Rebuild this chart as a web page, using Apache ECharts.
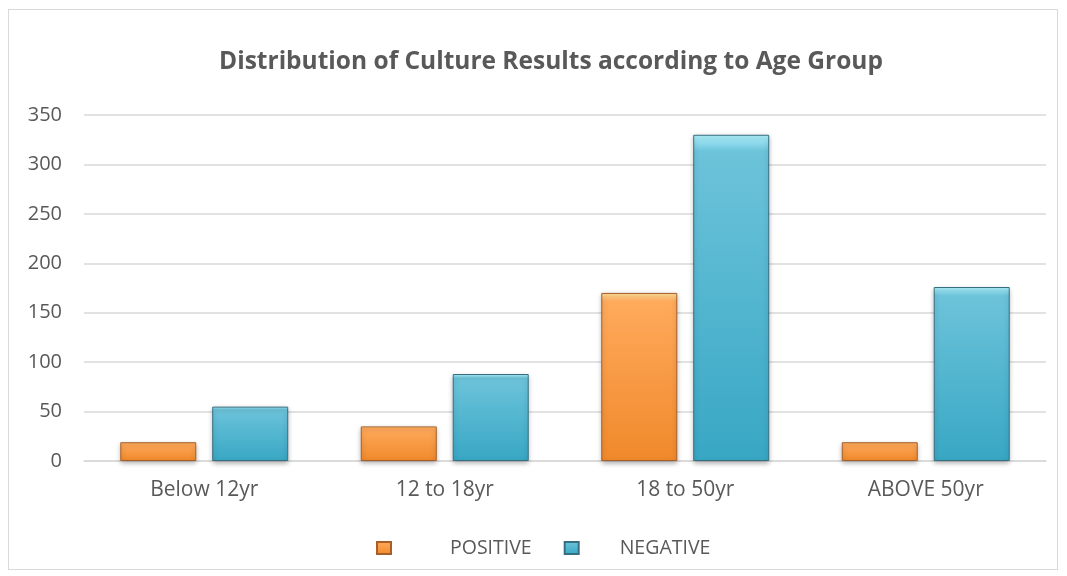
<!DOCTYPE html>
<html>
<head>
<meta charset="utf-8">
<script src="https://cdn.jsdelivr.net/npm/echarts@6/dist/echarts.min.js"></script>
<style>
html,body{margin:0;padding:0;background:#fff;}
#wrap{position:absolute;left:8px;top:9px;width:1050px;height:561px;border:1px solid #d9d9d9;box-sizing:border-box;}
#chart{position:absolute;left:0;top:0;width:1067px;height:576px;}
</style>
</head>
<body>
<div id="wrap"></div>
<div id="chart"></div>
<script>
const categories = ['Below 12yr', '12 to 18yr', '18 to 50yr', 'ABOVE 50yr'];
const positive = [19, 35, 170, 19];
const negative = [55, 88, 330, 176];
const yTicks = { min: 0, max: 350, interval: 50 };

const font = 'Open Sans';
const chart = echarts.init(document.getElementById('chart'));

function grad(top, mid, bottom) {
  return new echarts.graphic.LinearGradient(0, 0, 0, 1, [
    { offset: 0, color: top },
    { offset: 0.05, color: mid },
    { offset: 1, color: bottom }
  ]);
}

chart.setOption({
  animation: false,
  backgroundColor: 'transparent',
  title: {
    text: 'Distribution of Culture Results according to Age Group',
    left: 546, top: 45, textAlign: 'center',
    textStyle: { fontFamily: font, fontSize: 24.5, fontWeight: 'bold', color: '#595959' }
  },
  grid: { left: 84, right: 21, top: 115, bottom: 115, containLabel: false },
  legend: {
    top: 533, left: 371,
    itemWidth: 14, itemHeight: 12, itemGap: 32,
    icon: 'rect',
    textStyle: { fontFamily: font, fontSize: 19.5, color: '#595959' },
    data: [
      { name: 'POSITIVE', textStyle: { padding: [0, 0, 0, 54] } },
      { name: 'NEGATIVE', textStyle: { padding: [0, 0, 0, 36] } }
    ]
  },
  xAxis: {
    type: 'category', data: categories,
    axisLine: { lineStyle: { color: '#d9d9d9', width: 1.5 } },
    axisTick: { show: false },
    axisLabel: { fontFamily: font, fontSize: 21, color: '#595959', margin: 19 }
  },
  yAxis: {
    type: 'value', min: yTicks.min, max: yTicks.max, interval: yTicks.interval,
    axisLine: { show: false }, axisTick: { show: false },
    splitLine: { lineStyle: { color: '#d9d9d9', width: 1.5 } },
    axisLabel: { fontFamily: font, fontSize: 20, color: '#595959', margin: 22 }
  },
  series: [
    {
      name: 'POSITIVE', type: 'bar', data: positive,
      barWidth: 76, barGap: '21%',
      itemStyle: {
        color: grad('#ffe39a', '#ffaa5c', '#f0892b'),
        borderColor: '#a85e26', borderWidth: 1,
        shadowColor: 'rgba(0,0,0,0.3)', shadowBlur: 5, shadowOffsetY: 2
      }
    },
    {
      name: 'NEGATIVE', type: 'bar', data: negative,
      barWidth: 76,
      itemStyle: {
        color: grad('#b0f3ff', '#6cc3da', '#38a7c4'),
        borderColor: '#376f80', borderWidth: 1,
        shadowColor: 'rgba(0,0,0,0.3)', shadowBlur: 5, shadowOffsetY: 2
      }
    }
  ]
});
</script>
</body>
</html>
